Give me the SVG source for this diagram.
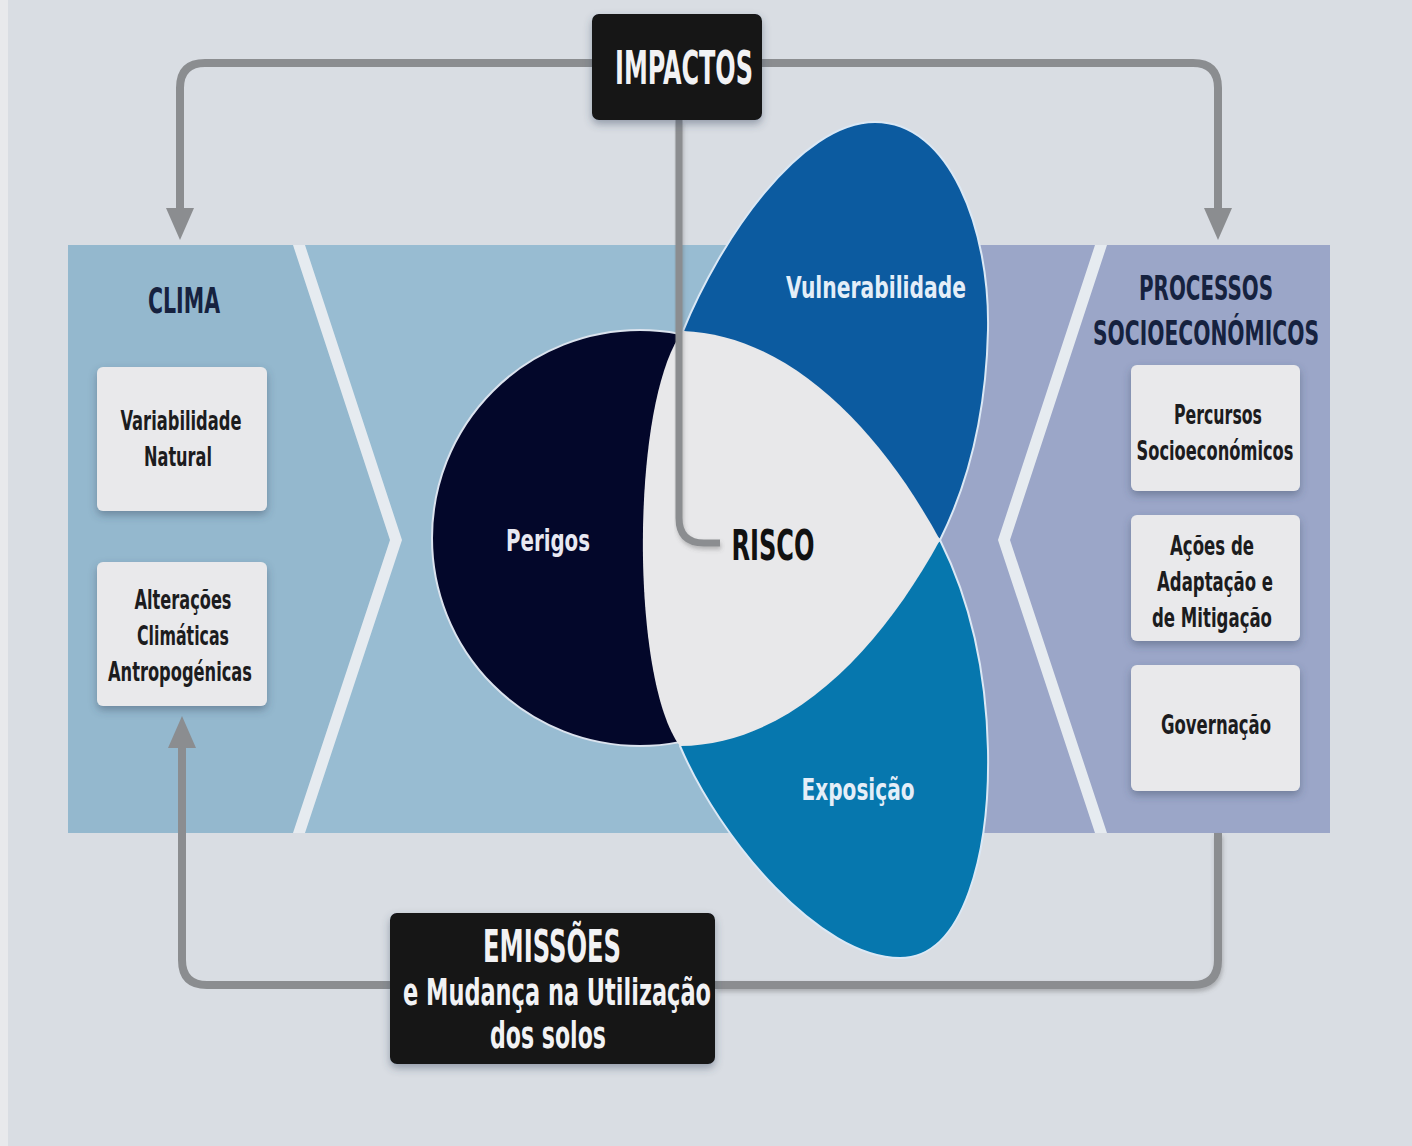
<svg xmlns="http://www.w3.org/2000/svg" width="1412" height="1146" viewBox="0 0 1412 1146">
<defs>
<style>
.t{font-family:'DejaVu Sans Condensed','Liberation Sans',sans-serif;font-weight:bold;text-anchor:middle}
.box{fill:#e9e9eb}
.dark{fill:#121214}
.conn{fill:none;stroke:#8b8d90;stroke-width:8}
.bt{fill:#1c1c1e;font-size:26px}
.hd{fill:#16223f}
.wt{fill:#f2f2f4}
</style>
<filter id="sh" x="-20%" y="-20%" width="140%" height="150%">
<feDropShadow dx="0" dy="4" stdDeviation="4" flood-color="#3a4a60" flood-opacity="0.45"/>
</filter>
<filter id="lsh" x="-10%" y="-10%" width="120%" height="120%">
<feDropShadow dx="1" dy="3" stdDeviation="2" flood-color="#555" flood-opacity="0.35"/>
</filter>
<marker id="ah" markerUnits="userSpaceOnUse" viewBox="0 0 32 28" refX="2" refY="14" markerWidth="32" markerHeight="28" orient="auto">
<path d="M0,0 L32,14 L0,28 Z" fill="#8b8d90"/>
</marker>
</defs>
<rect width="1412" height="1146" fill="#d9dde3"/>
<rect width="8" height="1146" fill="#e8e9ec"/>

<g id="band">
<rect x="68" y="245" width="882" height="588" fill="#98bcd2"/>
<polygon points="68,245 299,245 396,540 299,833 68,833" fill="#94b8ce"/>
<rect x="940" y="245" width="390" height="588" fill="#9ba6c8"/>
<polygon points="293,245 305,245 402,540 305,833 293,833 390,540" fill="#e6ebf0"/>
<polygon points="1095,245 1107,245 1010,540 1107,833 1095,833 998,540" fill="#e6ebf0"/>
</g>

<g id="vulnerabilidade">
<path d="M683,331 C720,240 800,122 875,122 C950,122 990,230 988,330 C986,420 965,490 940,540 Z" fill="#0c5ba0" stroke="#dbe8f5" stroke-width="2"/>
</g>
<g id="exposicao">
<path d="M680,746 C720,840 820,958 900,958 C965,958 990,850 988,750 C986,660 965,590 940,540 Z" fill="#0677ae" stroke="#dbe8f5" stroke-width="2"/>
</g>
<g id="perigos">
<circle cx="640" cy="538" r="208" fill="#03072a" stroke="#dbe3ee" stroke-width="2"/>
</g>
<g id="risco">
<path d="M683,331 C790,335 880,430 940,540 C880,650 790,745 680,746 C630,680 630,400 683,331 Z" fill="#e8e8ea"/>
</g>

<g id="connectors">
<path class="conn" d="M592,63 H205 Q180,63 180,88 V210" marker-end="url(#ah)"/>
<path class="conn" d="M762,63 H1193 Q1218,63 1218,88 V210" marker-end="url(#ah)"/>
<path class="conn" d="M1218,833 V960 Q1218,985 1193,985 H715" filter="url(#lsh)"/>
<path class="conn" d="M390,985 H207 Q182,985 182,960 V746" marker-end="url(#ah)"/>
<path class="conn" style="stroke-width:7" d="M679,120 V518 Q679,543 704,543 H720" filter="url(#lsh)"/>
</g>

<g id="impactos">
<rect class="dark" x="592" y="14" width="170" height="106" rx="7" filter="url(#sh)"/>
<text class="t wt" x="684" y="84" font-size="46" textLength="138" lengthAdjust="spacingAndGlyphs">IMPACTOS</text>
</g>

<g id="emissoes">
<rect class="dark" x="390" y="913" width="325" height="151" rx="7" filter="url(#sh)"/>
<text class="t wt" x="552" y="962" font-size="44" textLength="138" lengthAdjust="spacingAndGlyphs">EMISSÕES</text>
<text class="t wt" x="557" y="1005" font-size="38" textLength="308" lengthAdjust="spacingAndGlyphs">e Mudança na Utilização</text>
<text class="t wt" x="548" y="1048" font-size="38" textLength="116" lengthAdjust="spacingAndGlyphs">dos solos</text>
</g>

<g id="clima">
<text class="t hd" x="184" y="313" font-size="36" textLength="72" lengthAdjust="spacingAndGlyphs">CLIMA</text>
</g>
<g id="variabilidade">
<rect class="box" x="97" y="367" width="170" height="144" rx="6" filter="url(#sh)"/>
<text class="t bt" x="181" y="430" textLength="121" lengthAdjust="spacingAndGlyphs">Variabilidade</text>
<text class="t bt" x="178" y="466" textLength="68" lengthAdjust="spacingAndGlyphs">Natural</text>
</g>
<g id="alteracoes">
<rect class="box" x="97" y="562" width="170" height="144" rx="6" filter="url(#sh)"/>
<text class="t bt" x="183" y="609" textLength="97" lengthAdjust="spacingAndGlyphs">Alterações</text>
<text class="t bt" x="183" y="645" textLength="92" lengthAdjust="spacingAndGlyphs">Climáticas</text>
<text class="t bt" x="180" y="681" textLength="144" lengthAdjust="spacingAndGlyphs">Antropogénicas</text>
</g>

<g id="processos">
<text class="t hd" x="1206" y="300" font-size="34" textLength="134" lengthAdjust="spacingAndGlyphs">PROCESSOS</text>
<text class="t hd" x="1206" y="345" font-size="33" textLength="226" lengthAdjust="spacingAndGlyphs">SOCIOECONÓMICOS</text>
</g>
<g id="percursos">
<rect class="box" x="1131" y="365" width="169" height="126" rx="6" filter="url(#sh)"/>
<text class="t bt" x="1218" y="424" textLength="88" lengthAdjust="spacingAndGlyphs">Percursos</text>
<text class="t bt" x="1215" y="460" textLength="157" lengthAdjust="spacingAndGlyphs">Socioeconómicos</text>
</g>
<g id="acoes">
<rect class="box" x="1131" y="515" width="169" height="126" rx="6" filter="url(#sh)"/>
<text class="t bt" x="1212" y="555" textLength="84" lengthAdjust="spacingAndGlyphs">Ações de</text>
<text class="t bt" x="1215" y="591" textLength="116" lengthAdjust="spacingAndGlyphs">Adaptação e</text>
<text class="t bt" x="1212" y="627" textLength="120" lengthAdjust="spacingAndGlyphs">de Mitigação</text>
</g>
<g id="governacao">
<rect class="box" x="1131" y="665" width="169" height="126" rx="6" filter="url(#sh)"/>
<text class="t bt" x="1216" y="734" textLength="110" lengthAdjust="spacingAndGlyphs">Governação</text>
</g>

<g id="labels">
<text class="t" x="548" y="551" font-size="30" fill="#e8e8f2" textLength="84" lengthAdjust="spacingAndGlyphs">Perigos</text>
<text class="t" x="773" y="560" font-size="42" fill="#111" textLength="83" lengthAdjust="spacingAndGlyphs">RISCO</text>
<text class="t" x="876" y="298" font-size="30" fill="#e4eef8" textLength="180" lengthAdjust="spacingAndGlyphs">Vulnerabilidade</text>
<text class="t" x="858" y="800" font-size="30" fill="#e4eef8" textLength="113" lengthAdjust="spacingAndGlyphs">Exposição</text>
</g>
</svg>
